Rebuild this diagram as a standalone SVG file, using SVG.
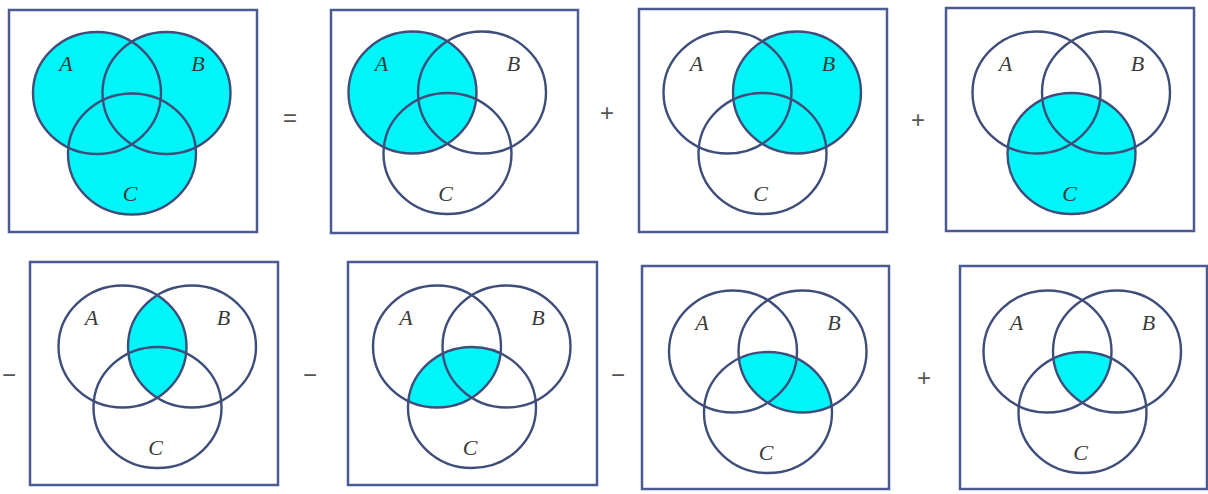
<svg xmlns="http://www.w3.org/2000/svg" xmlns:xlink="http://www.w3.org/1999/xlink" width="1208" height="494" viewBox="0 0 1208 494">
<style>
.box{fill:none;stroke:#4a5b94;stroke-width:2.5}
.ring{fill:none;stroke:#3f4d7a;stroke-width:2.4}
.sh{fill:#00f5f8}
.lbl{font-family:"Liberation Serif",serif;font-style:italic;font-size:22px;fill:#3a3a3a;text-anchor:middle}
.op{font-family:"Liberation Sans",sans-serif;font-size:24px;fill:#555;text-anchor:middle}
</style>
<defs>
<ellipse id="eA" cx="0" cy="0" rx="64" ry="61"/>
<ellipse id="eB" cx="69.5" cy="0" rx="64" ry="61"/>
<ellipse id="eC" cx="35" cy="61" rx="64" ry="60.5"/>
<clipPath id="cA"><use xlink:href="#eA"/></clipPath>
<clipPath id="cB"><use xlink:href="#eB"/></clipPath>
<clipPath id="cC"><use xlink:href="#eC"/></clipPath>
<g id="rings" class="ring">
<use xlink:href="#eA"/><use xlink:href="#eB"/><use xlink:href="#eC"/>
</g>
<g id="labels">
<text class="lbl" x="-31" y="-22">A</text>
<text class="lbl" x="101" y="-22">B</text>
<text class="lbl" x="33" y="108">C</text>
</g>
</defs>
<rect width="1208" height="494" fill="#fff"/>

<g id="panel1">
<rect class="box" x="9" y="10" width="248" height="222"/>
<g transform="translate(97,93)">
<g class="sh"><use xlink:href="#eA"/><use xlink:href="#eB"/><use xlink:href="#eC"/></g>
<use xlink:href="#rings"/><use xlink:href="#labels"/>
</g>
</g>

<g id="panel2">
<rect class="box" x="331" y="10" width="247" height="223"/>
<g transform="translate(412.5,92.5)">
<use class="sh" xlink:href="#eA"/>
<use xlink:href="#rings"/><use xlink:href="#labels"/>
</g>
</g>

<g id="panel3">
<rect class="box" x="639" y="9" width="248" height="223"/>
<g transform="translate(727.5,92.5)">
<use class="sh" xlink:href="#eB"/>
<use xlink:href="#rings"/><use xlink:href="#labels"/>
</g>
</g>

<g id="panel4">
<rect class="box" x="946" y="8" width="248" height="223"/>
<g transform="translate(1036.5,92.5)">
<use class="sh" xlink:href="#eC"/>
<use xlink:href="#rings"/><use xlink:href="#labels"/>
</g>
</g>

<g id="panel5">
<rect class="box" x="30" y="262" width="248" height="223"/>
<g transform="translate(122.5,346.5)">
<use class="sh" xlink:href="#eA" clip-path="url(#cB)"/>
<use xlink:href="#rings"/><use xlink:href="#labels"/>
</g>
</g>

<g id="panel6">
<rect class="box" x="348" y="262" width="249" height="223"/>
<g transform="translate(437,346.5)">
<use class="sh" xlink:href="#eA" clip-path="url(#cC)"/>
<use xlink:href="#rings"/><use xlink:href="#labels"/>
</g>
</g>

<g id="panel7">
<rect class="box" x="642" y="266" width="247" height="223"/>
<g transform="translate(733,351.5)">
<use class="sh" xlink:href="#eB" clip-path="url(#cC)"/>
<use xlink:href="#rings"/><use xlink:href="#labels"/>
</g>
</g>

<g id="panel8">
<rect class="box" x="960" y="266" width="247" height="223"/>
<g transform="translate(1047.5,351.5)">
<g clip-path="url(#cC)"><use class="sh" xlink:href="#eA" clip-path="url(#cB)"/></g>
<use xlink:href="#rings"/><use xlink:href="#labels"/>
</g>
</g>

<g id="operators">
<text class="op" x="290" y="126">=</text>
<text class="op" x="607" y="121">+</text>
<text class="op" x="918" y="128">+</text>
<text class="op" x="9" y="383">−</text>
<text class="op" x="310" y="383">−</text>
<text class="op" x="618" y="383">−</text>
<text class="op" x="924" y="386">+</text>
</g>
</svg>
